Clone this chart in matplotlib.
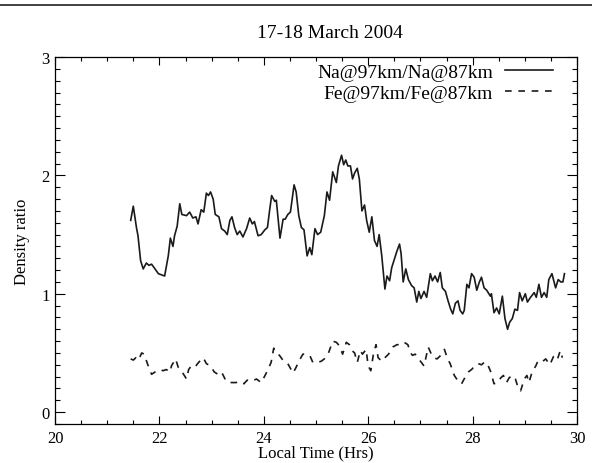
import matplotlib.pyplot as plt
from matplotlib.ticker import MultipleLocator
from matplotlib.lines import Line2D

plt.rcParams['font.family'] = ['Liberation Serif', 'DejaVu Serif']

# Na@97km / Na@87km ratio (solid)
na_time = [21.45, 21.50, 21.56, 21.59, 21.64, 21.69, 21.75, 21.80, 21.85, 21.90,
           21.98, 22.04, 22.10, 22.17, 22.21, 22.26, 22.29, 22.34, 22.39, 22.43,
           22.52, 22.58, 22.64, 22.70, 22.74, 22.80, 22.85, 22.90, 22.94, 22.98,
           23.03, 23.07, 23.14, 23.19, 23.25, 23.30, 23.35, 23.39, 23.44, 23.49,
           23.54, 23.60, 23.67, 23.73, 23.78, 23.82, 23.89, 23.95, 24.02, 24.07,
           24.11, 24.15, 24.21, 24.24, 24.31, 24.37, 24.41, 24.46, 24.51, 24.58,
           24.62, 24.67, 24.72, 24.77, 24.83, 24.88, 24.92, 24.98, 25.03, 25.09,
           25.16, 25.21, 25.26, 25.32, 25.39, 25.43, 25.49, 25.53, 25.57, 25.61,
           25.66, 25.70, 25.74, 25.79, 25.83, 25.88, 25.93, 25.97, 26.02, 26.07,
           26.12, 26.17, 26.21, 26.26, 26.32, 26.36, 26.41, 26.45, 26.50, 26.55,
           26.60, 26.63, 26.67, 26.72, 26.77, 26.83, 26.88, 26.93, 26.97, 27.01,
           27.07, 27.12, 27.19, 27.23, 27.28, 27.33, 27.38, 27.42, 27.48, 27.53,
           27.58, 27.62, 27.67, 27.72, 27.76, 27.81, 27.84, 27.89, 27.93, 27.98,
           28.03, 28.08, 28.13, 28.17, 28.22, 28.27, 28.34, 28.36, 28.41, 28.46,
           28.51, 28.57, 28.62, 28.67, 28.71, 28.76, 28.81, 28.86, 28.90, 28.95,
           29.01, 29.05, 29.11, 29.18, 29.22, 29.27, 29.32, 29.37, 29.42, 29.46,
           29.52, 29.55, 29.59, 29.64, 29.69, 29.73, 29.76]
na_ratio = [1.62, 1.74, 1.56, 1.49, 1.28, 1.21, 1.26, 1.24, 1.25, 1.22,
            1.17, 1.16, 1.15, 1.32, 1.47, 1.40, 1.49, 1.57, 1.76, 1.67,
            1.66, 1.69, 1.64, 1.65, 1.59, 1.71, 1.69, 1.85, 1.83, 1.86,
            1.80, 1.67, 1.65, 1.55, 1.53, 1.50, 1.62, 1.65, 1.56, 1.50,
            1.53, 1.48, 1.55, 1.64, 1.59, 1.61, 1.49, 1.50, 1.54, 1.56,
            1.70, 1.83, 1.78, 1.79, 1.47, 1.63, 1.63, 1.67, 1.69, 1.92,
            1.86, 1.66, 1.56, 1.54, 1.32, 1.39, 1.33, 1.55, 1.50, 1.52,
            1.66, 1.86, 1.79, 2.03, 1.94, 2.08, 2.17, 2.09, 2.13, 2.08,
            2.08, 1.97, 2.02, 2.06, 1.97, 1.70, 1.75, 1.62, 1.52, 1.65,
            1.45, 1.40, 1.50, 1.32, 1.04, 1.15, 1.11, 1.22, 1.29, 1.36,
            1.42, 1.34, 1.10, 1.21, 1.12, 1.07, 1.05, 0.93, 1.02, 0.96,
            1.02, 0.97, 1.17, 1.11, 1.15, 1.10, 1.18, 1.05, 1.02, 0.94,
            0.87, 0.83, 0.92, 0.94, 0.86, 0.83, 0.86, 1.08, 1.05, 1.17,
            1.14, 1.03, 1.10, 1.14, 1.05, 1.03, 0.98, 1.00, 0.84, 0.88,
            0.83, 0.98, 0.79, 0.70, 0.76, 0.79, 0.87, 0.86, 1.01, 0.94,
            1.00, 0.93, 0.97, 1.01, 0.97, 1.08, 0.97, 1.01, 0.97, 1.12,
            1.17, 1.12, 1.05, 1.12, 1.10, 1.10, 1.17]

# Fe@97km / Fe@87km ratio (dashed)
fe_time = [21.45, 21.50, 21.55, 21.60, 21.66, 21.71, 21.77, 21.85, 21.92, 22.01,
           22.07, 22.13, 22.21, 22.23, 22.31, 22.36, 22.42, 22.52, 22.56, 22.61,
           22.68, 22.75, 22.84, 22.90, 22.98, 23.05, 23.12, 23.19, 23.28, 23.38,
           23.47, 23.54, 23.62, 23.68, 23.76, 23.86, 23.95, 24.00, 24.07, 24.14,
           24.19, 24.24, 24.30, 24.38, 24.46, 24.56, 24.62, 24.67, 24.75, 24.81,
           24.88, 24.94, 25.02, 25.10, 25.16, 25.24, 25.32, 25.39, 25.45, 25.51,
           25.58, 25.64, 25.69, 25.74, 25.79, 25.85, 25.89, 25.96, 26.00, 26.05,
           26.10, 26.15, 26.19, 26.26, 26.32, 26.39, 26.47, 26.55, 26.63, 26.69,
           26.76, 26.81, 26.85, 26.90, 26.95, 27.02, 27.07, 27.15, 27.20, 27.25,
           27.32, 27.39, 27.46, 27.52, 27.57, 27.65, 27.74, 27.79, 27.85, 27.92,
           27.98, 28.04, 28.11, 28.17, 28.22, 28.27, 28.34, 28.41, 28.48, 28.54,
           28.59, 28.65, 28.70, 28.76, 28.82, 28.87, 28.92, 28.99, 29.04, 29.08,
           29.14, 29.21, 29.25, 29.32, 29.40, 29.48, 29.55, 29.62, 29.68, 29.72]
fe_ratio = [0.45, 0.44, 0.46, 0.44, 0.50, 0.49, 0.41, 0.32, 0.34, 0.36,
            0.35, 0.36, 0.34, 0.39, 0.45, 0.38, 0.35, 0.28, 0.36, 0.39,
            0.38, 0.42, 0.46, 0.41, 0.39, 0.34, 0.32, 0.34, 0.26, 0.25,
            0.25, 0.26, 0.24, 0.27, 0.26, 0.28, 0.25, 0.29, 0.35, 0.42,
            0.54, 0.50, 0.48, 0.43, 0.41, 0.33, 0.38, 0.43, 0.49, 0.49,
            0.48, 0.42, 0.42, 0.43, 0.45, 0.50, 0.60, 0.59, 0.56, 0.49,
            0.59, 0.57, 0.52, 0.50, 0.42, 0.52, 0.49, 0.53, 0.39, 0.35,
            0.49, 0.57, 0.46, 0.43, 0.46, 0.49, 0.55, 0.57, 0.57, 0.59,
            0.57, 0.50, 0.48, 0.49, 0.46, 0.42, 0.39, 0.55, 0.50, 0.46,
            0.45, 0.48, 0.53, 0.45, 0.41, 0.31, 0.25, 0.24, 0.29, 0.34,
            0.36, 0.39, 0.41, 0.40, 0.42, 0.42, 0.35, 0.24, 0.25, 0.29,
            0.31, 0.25, 0.29, 0.31, 0.28, 0.21, 0.18, 0.28, 0.31, 0.25,
            0.34, 0.39, 0.43, 0.42, 0.45, 0.40, 0.47, 0.44, 0.52, 0.46]

fig = plt.figure(figsize=(5.92, 4.64), dpi=100)
ax = fig.add_axes([55 / 592, 1 - 425 / 464, 522 / 592, 367 / 464])

ax.plot(na_time, na_ratio, color='#1a1a1a', linewidth=1.2)
ax.plot(fe_time, fe_ratio, color='#1a1a1a', linewidth=1.2, dashes=(4, 4))

ax.set_xlim(20, 30)
ax.set_ylim(-0.1, 3.0)
ax.xaxis.set_major_locator(MultipleLocator(2))
ax.xaxis.set_minor_locator(MultipleLocator(0.5))
ax.yaxis.set_major_locator(MultipleLocator(1))
ax.yaxis.set_minor_locator(MultipleLocator(0.1))
ax.tick_params(axis='both', which='both', direction='in', top=True, right=True,
               labelsize=12, width=0.8)
ax.tick_params(axis='x', which='major', length=5.5, pad=4)
ax.tick_params(axis='x', which='minor', length=2.8)
ax.tick_params(axis='y', which='major', length=7.5, pad=4)
ax.tick_params(axis='y', which='minor', length=3.8)
for s in ax.spines.values():
    s.set_linewidth(0.9)

ax.set_xlabel('Local Time (Hrs)', fontsize=12, labelpad=-1)
ax.set_ylabel('Density ratio', fontsize=12, labelpad=8)
fig.text(330 / 592, 1 - 33 / 464, '17-18 March 2004', fontsize=14,
         ha='center', va='center')

handles = [Line2D([], [], color='#1a1a1a', linewidth=1.2),
           Line2D([], [], color='#1a1a1a', linewidth=1.2, dashes=(4, 4))]
ax.legend(handles, ['Na@97km/Na@87km', 'Fe@97km/Fe@87km'], loc='upper right',
          bbox_to_anchor=(0.969, 1.004), borderaxespad=0,
          frameon=False, markerfirst=False, fontsize=14, handlelength=2.47,
          handletextpad=0.62, labelspacing=0.18)

# rule across the top of the page
fig.add_artist(Line2D([0, 1], [1 - 6 / 464, 1 - 6 / 464], color='#222222',
                      linewidth=1.2, transform=fig.transFigure))

fig.savefig('out.png', dpi=100)
